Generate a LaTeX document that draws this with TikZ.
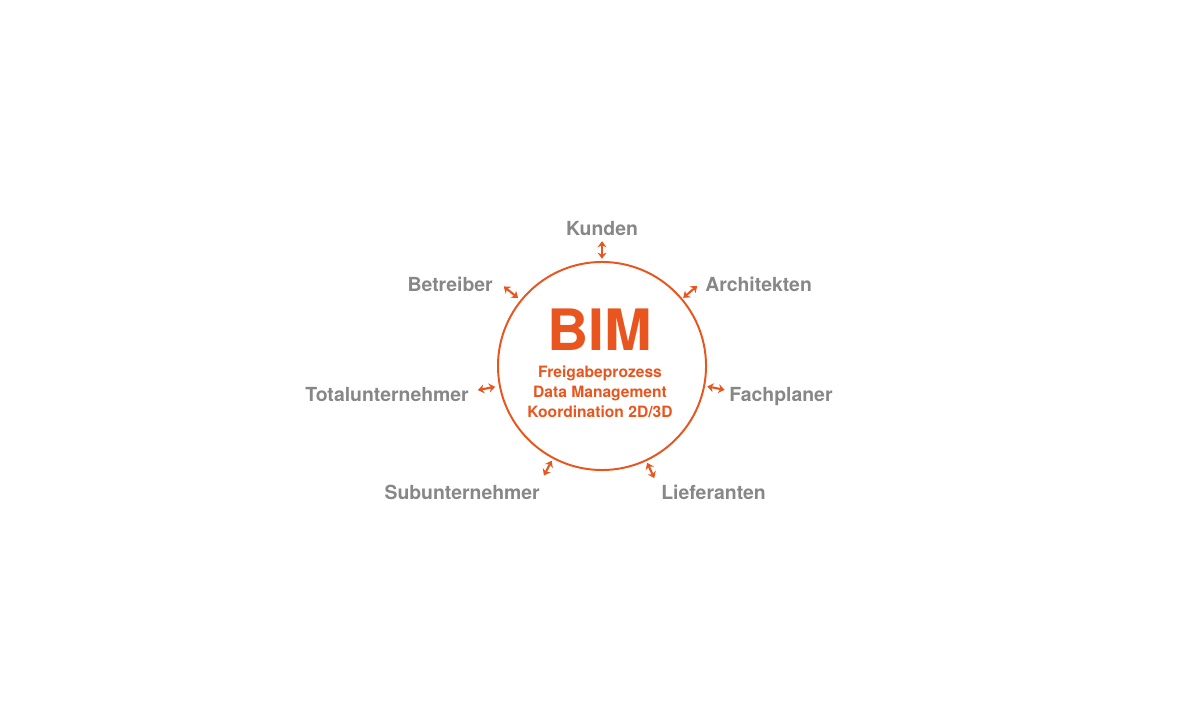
\documentclass[tikz,border=0pt]{standalone}
\usepackage{fontspec}
\setmainfont{TeX Gyre Heros}
\usepackage{xcolor}
\usepackage{tikz}
\usetikzlibrary{arrows.meta,positioning}

\definecolor{bimorange}{HTML}{E8551E}
\definecolor{lblgray}{HTML}{878787}

\begin{document}
\begin{tikzpicture}[
    x=0.025cm, y=-0.025cm,
    lbl/.style={inner sep=0pt, text=lblgray, font=\fontsize{13.8}{16}\selectfont\bfseries},
    arr/.style={{Stealth[length=4.4pt, width=6.4pt]}-{Stealth[length=4.4pt, width=6.4pt]}, line width=1.5pt, draw=bimorange}
  ]
    \useasboundingbox (0,0) rectangle (1200,720);

    % Ring
    \node[circle, draw=bimorange, line width=1.4pt, minimum size=5.2cm,
      inner sep=0pt, outer sep=0pt] (ring) at (602,366) {};

    % Inner text
    \node[inner sep=0pt, text=bimorange, font=\fontsize{40.6}{44}\selectfont\bfseries]
      (bim) at (600,330) {BIM};
    \node[inner sep=0pt, text=bimorange, align=center,
      font=\fontsize{11.1}{14.2}\selectfont\bfseries] (tasks) at (600,392)
      {Freigabeprozess\\Data Management\\Koordination 2D/3D};

    % Partners
    \node[lbl, anchor=base] (kunden) at (602,236) {Kunden};
    \node[lbl, anchor=base east] (betreiber) at (493,292) {Betreiber};
    \node[lbl, anchor=base west] (architekten) at (705,292) {Architekten};
    \node[lbl, anchor=base east] (totalu) at (469,401) {Totalunternehmer};
    \node[lbl, anchor=base west] (fachplaner) at (729,401) {Fachplaner};
    \node[lbl, anchor=base east] (subu) at (540,499) {Subunternehmer};
    \node[lbl, anchor=base west] (lieferanten) at (661,499) {Lieferanten};

    % Exchange arrows
    \draw[arr] (ring.90) ++(90:0.08cm) -- ++(90:0.44cm);
    \draw[arr] (ring.141) ++(141:0.1cm) -- ++(141:0.46cm);
    \draw[arr] (ring.40.5) ++(40.5:0.05cm) -- ++(40.5:0.46cm);
    \draw[arr] (ring.191) ++(191:0.12cm) -- ++(191:0.44cm);
    \draw[arr] (ring.-11) ++(-11:0.08cm) -- ++(-11:0.44cm);
    \draw[arr] (ring.242.5) ++(242.5:0.08cm) -- ++(242.5:0.42cm);
    \draw[arr] (ring.-65) ++(-65:0.07cm) -- ++(-65:0.42cm);
\end{tikzpicture}
\end{document}
